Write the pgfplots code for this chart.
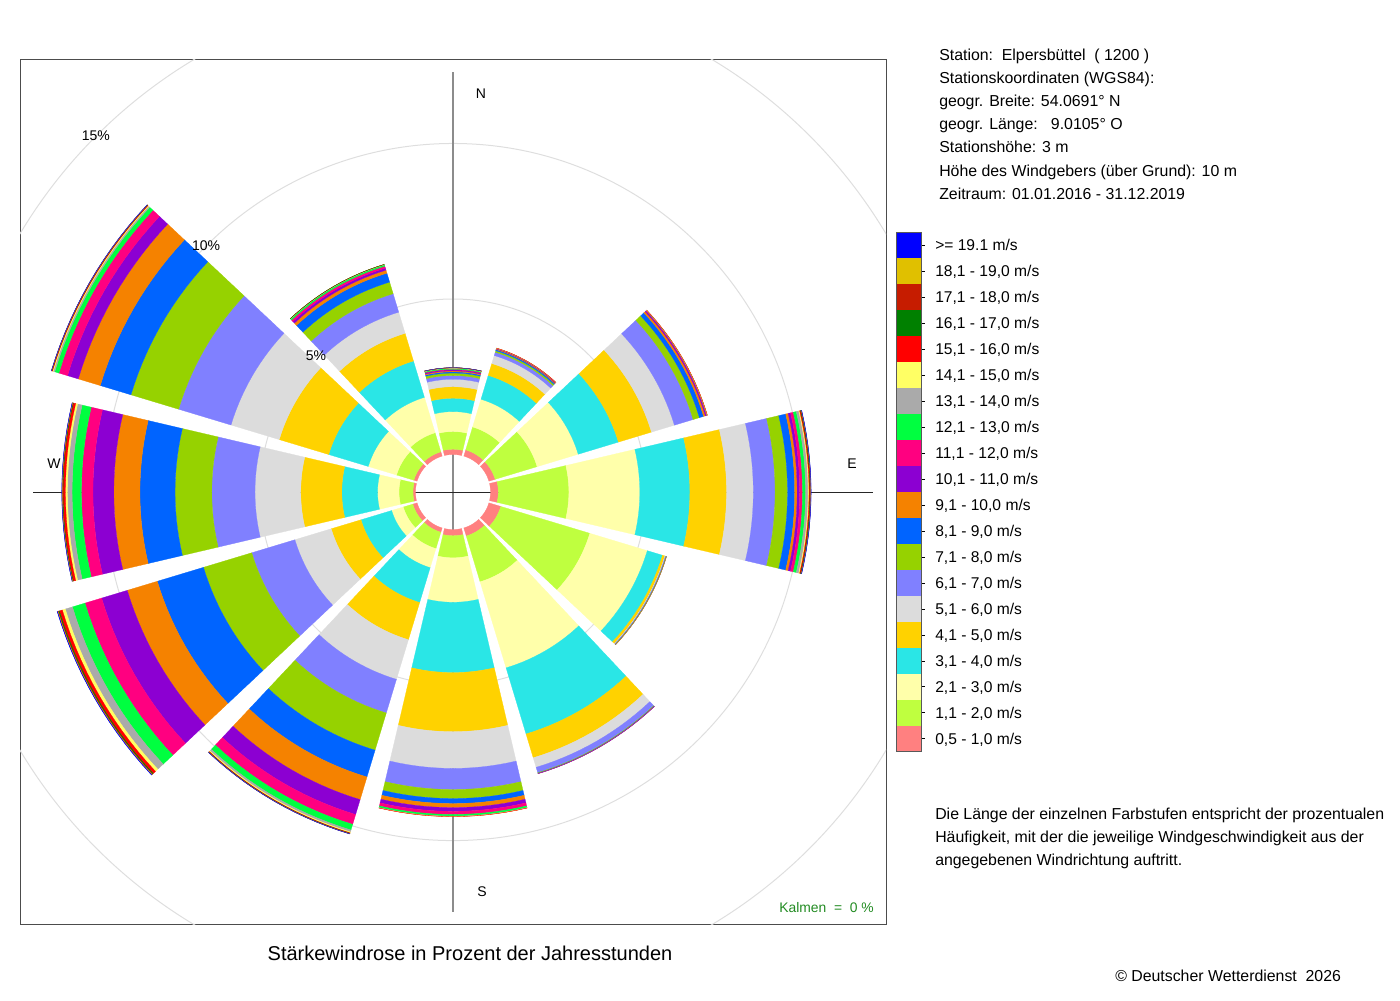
\documentclass[border=0pt]{standalone}
\usepackage{fontspec}
\setmainfont{Liberation Sans}
\usepackage{pgfplots}
\usepackage{pgfplotstable}
\pgfplotsset{compat=1.18}

\definecolor{wc1}{RGB}{255,128,128}
\definecolor{wc2}{RGB}{191,255,63}
\definecolor{wc3}{RGB}{255,255,170}
\definecolor{wc4}{RGB}{42,230,230}
\definecolor{wc5}{RGB}{255,210,0}
\definecolor{wc6}{RGB}{220,220,220}
\definecolor{wc7}{RGB}{128,128,255}
\definecolor{wc8}{RGB}{150,210,0}
\definecolor{wc9}{RGB}{0,100,255}
\definecolor{wc10}{RGB}{245,130,0}
\definecolor{wc11}{RGB}{140,0,210}
\definecolor{wc12}{RGB}{255,0,128}
\definecolor{wc13}{RGB}{0,255,64}
\definecolor{wc14}{RGB}{170,170,170}
\definecolor{wc15}{RGB}{255,255,100}
\definecolor{wc16}{RGB}{255,0,0}
\definecolor{wc17}{RGB}{0,128,0}
\definecolor{wc18}{RGB}{198,28,0}
\definecolor{wc19}{RGB}{224,192,0}
\definecolor{wc20}{RGB}{0,0,255}
\definecolor{kalm}{RGB}{34,139,34}

% percentages per direction (rows) and speed class (columns c1 = 0.5-1.0 m/s ... c20 = >= 19.1 m/s)
\pgfplotstableread{
dir c1 c2 c3 c4 c5 c6 c7 c8 c9 c10 c11 c12 c13 c14 c15 c16 c17 c18 c19 c20
0   0.17 0.57 0.64 0.43 0.37 0.24 0.12 0.08 0.04 0.03 0.03 0.02 0.03 0.01 0.005 0.003 0.001 0.001 0.001 0.001
30  0.21 0.77 0.93 0.80 0.40 0.27 0.11 0.05 0.04 0.02 0.01 0.01 0.005 0.002 0.001 0.001 0 0 0 0
60  0.21 1.41 1.38 1.35 1.11 0.77 0.63 0.21 0.14 0.06 0.035 0.016 0.01 0.003 0.002 0.001 0 0 0 0
90  0.25 2.27 2.28 1.61 1.18 0.86 0.70 0.40 0.23 0.08 0.08 0.09 0.10 0.08 0.03 0.03 0.016 0.01 0.006 0.006
120 0.40 2.99 1.93 0.51 0.08 0.016 0.022 0.01 0.006 0.002 0 0 0 0 0 0 0 0 0 0
150 0.27 1.54 2.89 2.22 0.80 0.32 0.18 0.016 0.01 0.006 0.002 0 0 0 0 0 0 0 0 0
180 0.20 0.71 1.43 2.26 1.90 1.18 0.68 0.29 0.16 0.13 0.12 0.10 0.055 0.01 0.003 0.002 0 0 0 0
210 0.145 0.55 0.64 1.17 1.25 1.33 1.13 1.25 0.90 0.76 0.50 0.33 0.19 0.064 0.032 0.016 0.01 0.006 0.003 0.003
240 0.145 0.32 0.39 1.03 1.00 1.22 1.45 1.62 1.55 1.01 0.86 0.56 0.42 0.24 0.10 0.10 0.03 0.02 0.013 0.01
270 0.08 0.45 0.69 1.15 1.32 1.47 1.39 1.18 1.13 0.84 0.67 0.37 0.30 0.15 0.064 0.077 0.016 0.01 0.01 0.006
300 0.11 0.58 0.95 1.33 1.66 1.62 1.76 1.60 1.03 0.74 0.36 0.29 0.14 0.05 0.026 0.02 0.006 0.006 0.003 0.003
330 0.145 0.64 1.19 1.22 0.93 0.71 0.62 0.39 0.30 0.10 0.07 0.064 0.045 0.01 0.003 0.002 0.001 0 0 0
}\windtable

\newcommand\hole{1.206}
\newcommand\halfw{13.2}
\newcommand\infofont{\fontsize{11.9}{14}\selectfont}
\newcommand\legfont{\fontsize{11.7}{14}\selectfont}

\begin{document}
\begin{tikzpicture}
\path[use as bounding box] (0,0) rectangle (1050pt,750pt);
\begin{axis}[at={(15pt,56.25pt)}, anchor=south west, scale only axis,
  width=649.5pt, height=648.75pt,
  xmin=-13.92, xmax=13.92, ymin=-13.92, ymax=13.89,
  xtick=\empty, ytick=\empty,
  axis line style={draw=black!70, line width=0.75pt}]
% grid circles (5, 10, 15 %)
\draw[black!13, line width=0.75pt] (axis cs:0,0) circle[radius=6.206];
\draw[black!13, line width=0.75pt] (axis cs:0,0) circle[radius=11.206];
\draw[black!13, line width=0.75pt] (axis cs:0,0) circle[radius=16.206];
% cross
\addplot[black!45, line width=1.3pt, forget plot] coordinates {(0,-13.5) (0,13.5)};
\addplot[black!85, line width=0.75pt, forget plot] coordinates {(-13.5,0) (13.5,0)};
% wind rose sectors
\foreach \s in {0,...,11}{%
  \pgfplotstablegetelem{\s}{dir}\of\windtable
  \pgfmathsetmacro\aA{90-\pgfplotsretval-\halfw}%
  \pgfmathsetmacro\aB{90-\pgfplotsretval+\halfw}%
  \xdef\rin{\hole}%
  \foreach \k in {1,...,20}{%
    \edef\tmpget{\noexpand\pgfplotstablegetelem{\s}{c\k}}\tmpget\of\windtable
    \let\val\pgfplotsretval
    \pgfmathsetmacro\rout{\rin+\val}%
    \pgfmathtruncatemacro\nz{\val>0 ? 1 : 0}%
    \ifnum\nz=1
      \xdef\coordlist{}%
      \foreach \t in {0,...,14}{\pgfmathsetmacro\ang{\aA+(\aB-\aA)*\t/14}\xdef\coordlist{\coordlist(\ang,\rout)}}%
      \foreach \t in {14,...,0}{\pgfmathsetmacro\ang{\aA+(\aB-\aA)*\t/14}\xdef\coordlist{\coordlist(\ang,\rin)}}%
      \edef\temp{\noexpand\addplot[draw=wc\k, line width=0.2pt, fill=wc\k, data cs=polar, forget plot] coordinates {\coordlist} -- cycle;}%
      \temp
    \fi
    \xdef\rin{\rout}%
  }%
}
% labels
\node[font=\fontsize{10.5}{12}\selectfont] at (axis cs:0.90,12.80) {N};
\node[font=\fontsize{10.5}{12}\selectfont] at (axis cs:0.93,-12.86) {S};
\node[font=\fontsize{10.5}{12}\selectfont] at (axis cs:12.83,0.90) {E};
\node[font=\fontsize{10.5}{12}\selectfont] at (axis cs:-12.83,0.90) {W};
\node[font=\fontsize{10.5}{12}\selectfont] at (axis cs:-4.405,4.373) {5\%};
\node[font=\fontsize{10.5}{12}\selectfont] at (axis cs:-7.94,7.91) {10\%};
\node[font=\fontsize{10.5}{12}\selectfont] at (axis cs:-11.48,11.45) {15\%};
\end{axis}

\begin{scope}[x=0.75pt, y=-0.75pt, yshift=750pt]
\newcommand\legrow[3]{%
  \fill[#2] (896,{232.5+25.97*#1}) rectangle (921,{232.5+25.97*(#1+1)});
  \draw[black, line width=0.75pt] (921,{232.5+25.97*(#1+0.5)}) -- (925,{232.5+25.97*(#1+0.5)});
  \node[anchor=base west, inner sep=0, font=\legfont] at (935,{232.5+25.97*(#1+0.5)+5.4}) {#3};}
\legrow{0}{wc20}{>= 19.1 m/s}
\legrow{1}{wc19}{18,1 - 19,0 m/s}
\legrow{2}{wc18}{17,1 - 18,0 m/s}
\legrow{3}{wc17}{16,1 - 17,0 m/s}
\legrow{4}{wc16}{15,1 - 16,0 m/s}
\legrow{5}{wc15}{14,1 - 15,0 m/s}
\legrow{6}{wc14}{13,1 - 14,0 m/s}
\legrow{7}{wc13}{12,1 - 13,0 m/s}
\legrow{8}{wc12}{11,1 - 12,0 m/s}
\legrow{9}{wc11}{10,1 - 11,0 m/s}
\legrow{10}{wc10}{9,1 - 10,0 m/s}
\legrow{11}{wc9}{8,1 - 9,0 m/s}
\legrow{12}{wc8}{7,1 - 8,0 m/s}
\legrow{13}{wc7}{6,1 - 7,0 m/s}
\legrow{14}{wc6}{5,1 - 6,0 m/s}
\legrow{15}{wc5}{4,1 - 5,0 m/s}
\legrow{16}{wc4}{3,1 - 4,0 m/s}
\legrow{17}{wc3}{2,1 - 3,0 m/s}
\legrow{18}{wc2}{1,1 - 2,0 m/s}
\legrow{19}{wc1}{0,5 - 1,0 m/s}
\draw[black!65, line width=0.75pt] (896,232.5) rectangle (921,752);

\node[anchor=base west, inner sep=0, font=\infofont] at (939,60.5) {Station:\ \ Elpersbüttel\ \ ( 1200 )};
\node[anchor=base west, inner sep=0, font=\infofont] at (939,83.5) {Stationskoordinaten (WGS84):};
\node[anchor=base west, inner sep=0, font=\infofont] at (939,106.5) {geogr. Breite: 54.0691° N};
\node[anchor=base west, inner sep=0, font=\infofont] at (939,130) {geogr. Länge:\ \ \ 9.0105° O};
\node[anchor=base west, inner sep=0, font=\infofont] at (939,153) {Stationshöhe: 3 m};
\node[anchor=base west, inner sep=0, font=\infofont] at (939,176.5) {Höhe des Windgebers (über Grund): 10 m};
\node[anchor=base west, inner sep=0, font=\infofont] at (939,199.5) {Zeitraum: 01.01.2016 - 31.12.2019};

\node[anchor=base west, inner sep=0, font=\infofont] at (935,819.5) {Die Länge der einzelnen Farbstufen entspricht der prozentualen};
\node[anchor=base west, inner sep=0, font=\infofont] at (935,842.5) {Häufigkeit, mit der die jeweilige Windgeschwindigkeit aus der};
\node[anchor=base west, inner sep=0, font=\infofont] at (935,865.5) {angegebenen Windrichtung auftritt.};

\node[anchor=base, inner sep=0, font=\fontsize{15}{17}\selectfont] at (470,961) {Stärkewindrose in Prozent der Jahresstunden};
\node[anchor=base east, inner sep=0, font=\fontsize{10.4}{12}\selectfont, text=kalm] at (874,912.5) {Kalmen\ \ =\ \ 0 \%};
\node[anchor=base west, inner sep=0, font=\infofont] at (1115,981.5) {© Deutscher Wetterdienst\ \ 2026};
\end{scope}
\end{tikzpicture}
\end{document}
